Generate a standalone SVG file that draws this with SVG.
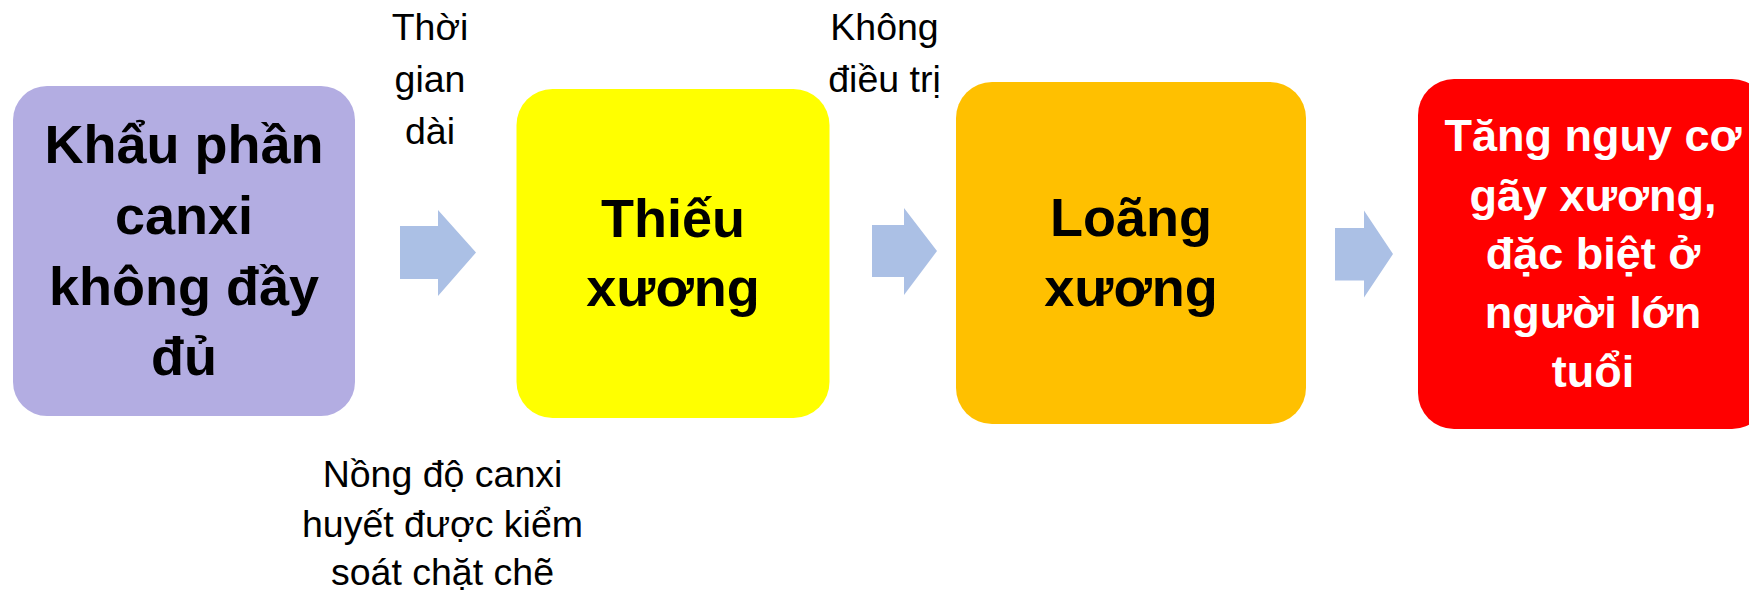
<svg xmlns="http://www.w3.org/2000/svg" width="1749" height="594" viewBox="0 0 1749 594">
<style>
.box-t{font-family:"Liberation Sans","DejaVu Sans",sans-serif;font-weight:bold;font-size:54px;text-anchor:middle;fill:#000}
.box4-t{font-family:"Liberation Sans","DejaVu Sans",sans-serif;font-weight:bold;font-size:45px;text-anchor:middle;fill:#fff}
.lbl{font-family:"Liberation Sans","DejaVu Sans",sans-serif;font-size:37.5px;text-anchor:middle;fill:#000}
.arrow{fill:#ABC0E5}
</style>
<rect width="1749" height="594" fill="#fff"/>
<g id="connectors">
<polygon class="arrow" points="400,226 438,226 438,210 476,252.5 438,296 438,279 400,279"/>
<polygon class="arrow" points="872,225 904,225 904,208 937,251 904,295 904,277 872,277"/>
<polygon class="arrow" points="1335,228 1364,228 1364,210.5 1393,254 1364,297.5 1364,280.5 1335,280.5"/>
</g>
<g id="label-thoi-gian">
<text class="lbl" x="430" y="40">Thời</text>
<text class="lbl" x="430" y="92">gian</text>
<text class="lbl" x="430" y="143.5">dài</text>
</g>
<g id="label-khong-dieu-tri">
<text class="lbl" x="884.5" y="40">Không</text>
<text class="lbl" x="884.5" y="92">điều trị</text>
</g>
<g id="label-nong-do">
<text class="lbl" x="442.5" y="487">Nồng độ canxi</text>
<text class="lbl" x="442.5" y="537">huyết được kiểm</text>
<text class="lbl" x="442.5" y="585">soát chặt chẽ</text>
</g>
<g id="node-khau-phan">
<rect x="13" y="86" width="342" height="330" rx="34" fill="#B3ADE2"/>
<text class="box-t" x="184" y="162.5">Khẩu phần</text>
<text class="box-t" x="184" y="233.5">canxi</text>
<text class="box-t" x="184" y="305">không đầy</text>
<text class="box-t" x="184" y="375">đủ</text>
</g>
<g id="node-thieu-xuong">
<rect x="516.5" y="89" width="313" height="329" rx="36" fill="#FFFF00"/>
<text class="box-t" x="673" y="236.5">Thiếu</text>
<text class="box-t" x="673" y="306">xương</text>
</g>
<g id="node-loang-xuong">
<rect x="956" y="82" width="350" height="342" rx="36" fill="#FFC000"/>
<text class="box-t" x="1131" y="236">Loãng</text>
<text class="box-t" x="1131" y="306">xương</text>
</g>
<g id="node-tang-nguy-co">
<rect x="1418" y="79" width="350" height="350" rx="36" fill="#FF0000"/>
<text class="box4-t" x="1593" y="151">Tăng nguy cơ</text>
<text class="box4-t" x="1593" y="210.5">gãy xương,</text>
<text class="box4-t" x="1593" y="269">đặc biệt ở</text>
<text class="box4-t" x="1593" y="328">người lớn</text>
<text class="box4-t" x="1593" y="386.5">tuổi</text>
</g>
</svg>
